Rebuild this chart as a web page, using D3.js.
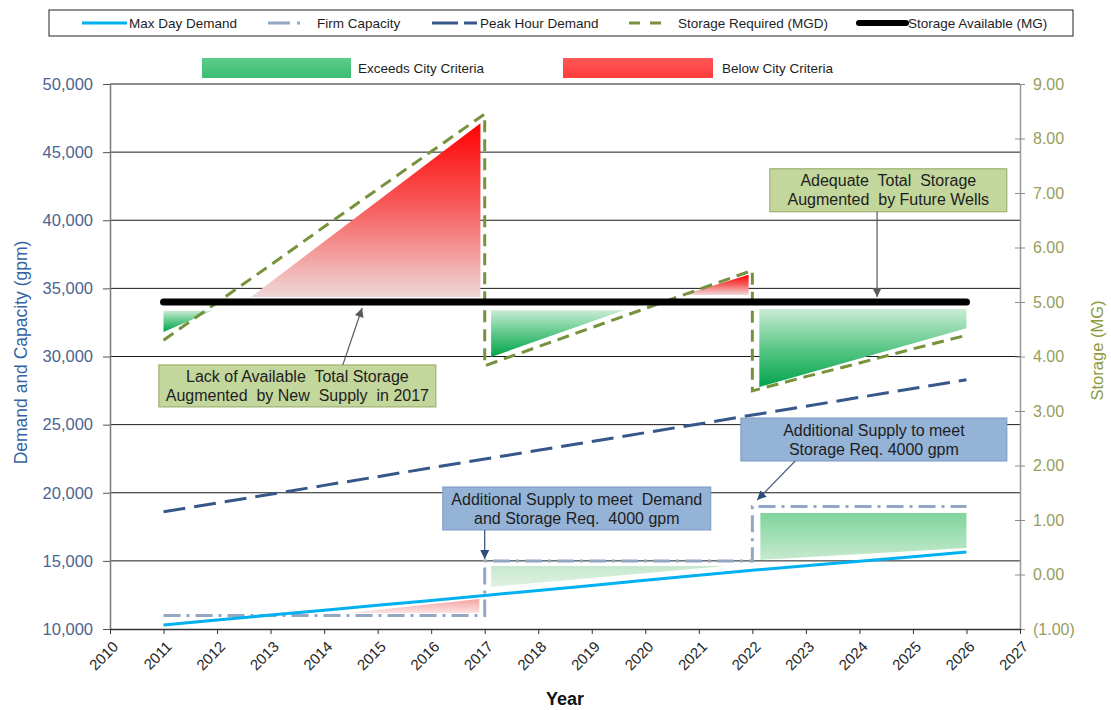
<!DOCTYPE html>
<html>
<head>
<meta charset="utf-8">
<title>Demand, Capacity and Storage</title>
<script src="https://cdn.jsdelivr.net/npm/d3@7/dist/d3.min.js"></script>
<style>
  html, body { margin: 0; padding: 0; background: #fff; }
  text { font-family: "Liberation Sans", Arial, Helvetica, sans-serif; }
</style>
</head>
<body>
<svg id="chart" width="1111" height="710"></svg>
<script>
// ---------------- data ----------------
const years = [2011, 2012, 2013, 2014, 2015, 2016, 2017, 2018, 2019, 2020, 2021, 2022, 2023, 2024, 2025, 2026];
const maxDayDemand   = [10300, 10660, 11020, 11380, 11740, 12100, 12460, 12830, 13200, 13570, 13940, 14310, 14650, 14980, 15310, 15650];
const peakHourDemand = [18600, 19250, 19890, 20540, 21180, 21830, 22470, 23120, 23760, 24410, 25050, 25700, 26350, 27000, 27650, 28300];

const firmCapacityYears = [2011, 2017, 2017, 2022, 2022, 2026];
const firmCapacity      = [11000, 11000, 15000, 15000, 19000, 19000];

const storageRequiredYears = [2011, 2012, 2013, 2014, 2015, 2016, 2017,
                              2017, 2018, 2019, 2020, 2021, 2022,
                              2022, 2023, 2024, 2025, 2026];
const storageRequired = [4.30, 4.99, 5.68, 6.38, 7.07, 7.76, 8.45,
                         3.83, 4.18, 4.53, 4.88, 5.23, 5.58,
                         3.37, 3.63, 3.88, 4.14, 4.39];

const storageAvailableYears = [2011, 2026];
const storageAvailable      = [5.00, 5.00];

// shaded zones, each point is [year, upper, lower]
const storageZones = [
  { kind: "exceeds", pts: [[2011.00, 4.84, 4.45], [2011.91, 4.84, 4.84]] },
  { kind: "below",   pts: [[2012.63, 5.09, 5.09], [2016.92, 8.28, 5.09]] },
  { kind: "exceeds", pts: [[2017.12, 4.85, 3.99], [2019.60, 4.85, 4.85]] },
  { kind: "below",   pts: [[2020.70, 5.13, 5.13], [2021.93, 5.50, 5.13]] },
  { kind: "exceeds", pts: [[2022.13, 4.87, 3.44], [2026.00, 4.87, 4.52]] }
];
const supplyZones = [
  { kind: "below",   pts: [[2014.45, 11180, 11180], [2016.90, 12200, 11180]] },
  { kind: "exceeds", pts: [[2017.12, 14630, 13080], [2021.50, 14630, 14630]] },
  { kind: "exceeds", pts: [[2022.15, 18520, 15070], [2026.00, 18520, 15950]] }
];

const gpmTicks     = [10000, 15000, 20000, 25000, 30000, 35000, 40000, 45000, 50000];
const storageTicks = [-1, 0, 1, 2, 3, 4, 5, 6, 7, 8, 9];
const yearTicks    = [2010, 2011, 2012, 2013, 2014, 2015, 2016, 2017, 2018, 2019, 2020, 2021, 2022, 2023, 2024, 2025, 2026, 2027];

const legendLabels   = ["Max Day Demand", "Firm Capacity", "Peak Hour Demand", "Storage Required (MGD)", "Storage Available (MG)"];
const criteriaLabels = ["Exceeds City Criteria", "Below City Criteria"];

const noteStorageLack = ["Lack of Available  Total Storage", "Augmented  by New  Supply  in 2017"];
const noteStorageOk   = ["Adequate  Total  Storage", "Augmented  by Future Wells"];
const noteSupply2017  = ["Additional Supply to meet  Demand", "and Storage Req.  4000 gpm"];
const noteSupply2022  = ["Additional Supply to meet", "Storage Req. 4000 gpm"];

// ---------------- layout ----------------
const plot = { left: 110, right: 1020, top: 84, bottom: 629 };
const svg = d3.select("#chart");

const x  = d3.scaleLinear().domain([2010, 2027]).range([plot.left, plot.right]);
const yL = d3.scaleLinear().domain([10000, 50000]).range([plot.bottom, plot.top]);
const yR = d3.scaleLinear().domain([-1, 9]).range([plot.bottom, plot.top]);

const colors = {
  maxDay: "#00b0f0",
  firm: "#93a6c4",
  peak: "#36578a",
  req: "#76923c",
  avail: "#000000",
  leftText: "#4a6590",
  leftTitle: "#3563a6",
  rightText: "#979d5c",
  rightTitle: "#8e9a3e"
};

// ---------------- defs ----------------
const defs = svg.append("defs");
function vGrad(id, stops) {
  const g = defs.append("linearGradient").attr("id", id)
    .attr("x1", 0).attr("y1", 0).attr("x2", 0).attr("y2", 1);
  stops.forEach(([o, c]) => g.append("stop").attr("offset", o).attr("stop-color", c));
}
vGrad("storeGreen", [[0, "#c9ecd4"], [0.5, "#5cc787"], [1, "#00a34c"]]);
vGrad("storeRed",   [[0, "#ff0000"], [0.5, "#f76060"], [1, "#efd8d8"]]);
vGrad("supRed",     [[0, "#f6a2a2"], [1, "#fbe2e2"]]);
vGrad("supGreenPale", [[0, "#c6e8cd"], [1, "#e0f2e3"]]);
vGrad("supGreen",   [[0, "#7fd49b"], [1, "#c6eacf"]]);
vGrad("legGreen",   [[0, "#5ccb8a"], [1, "#3dbd72"]]);
vGrad("legRed",     [[0, "#ff5656"], [1, "#ff3c3c"]]);

function arrowMarker(id, color) {
  defs.append("marker").attr("id", id)
    .attr("viewBox", "0 0 10 10").attr("refX", 10).attr("refY", 5)
    .attr("markerWidth", 10).attr("markerHeight", 9)
    .attr("markerUnits", "userSpaceOnUse").attr("orient", "auto")
    .append("path").attr("d", "M0,0L10,5L0,10z").attr("fill", color);
}
arrowMarker("arrGray", "#5a5a5a");
arrowMarker("arrBlue", "#2f4b7c");

// ---------------- gridlines ----------------
svg.append("g").selectAll("line").data(gpmTicks.slice(1)).join("line")
  .attr("x1", plot.left).attr("x2", plot.right)
  .attr("y1", d => yL(d)).attr("y2", d => yL(d))
  .attr("stroke", "#1a1a1a").attr("stroke-width", 1);

// ---------------- shaded zones ----------------
const areaR = d3.area().x(d => x(d[0])).y1(d => yR(d[1])).y0(d => yR(d[2]));
const areaL = d3.area().x(d => x(d[0])).y1(d => yL(d[1])).y0(d => yL(d[2]));

svg.append("g").selectAll("path").data(storageZones).join("path")
  .attr("d", d => areaR(d.pts))
  .attr("fill", d => d.kind === "exceeds" ? "url(#storeGreen)" : "url(#storeRed)");

const supplyFills = ["url(#supRed)", "url(#supGreenPale)", "url(#supGreen)"];
svg.append("g").selectAll("path").data(supplyZones).join("path")
  .attr("d", d => areaL(d.pts))
  .attr("fill", (d, i) => supplyFills[i]);

// ---------------- axes ----------------
const fmtStorage = v => v < 0 ? "(" + d3.format(".2f")(-v) + ")" : d3.format(".2f")(v);

const gLeft = svg.append("g").attr("transform", `translate(${plot.left},0)`)
  .call(d3.axisLeft(yL).tickValues(gpmTicks).tickFormat(d3.format(",")).tickSize(7).tickSizeOuter(0).tickPadding(10));
gLeft.select(".domain").attr("stroke", "#7a7a7a").attr("stroke-width", 1.5);
gLeft.selectAll(".tick line").attr("stroke", "#555");
gLeft.selectAll(".tick text").attr("fill", colors.leftText).attr("font-size", 16.5)
  .attr("font-family", "'Liberation Sans', Arial, sans-serif");

const gRight = svg.append("g").attr("transform", `translate(${plot.right},0)`)
  .call(d3.axisRight(yR).tickValues(storageTicks).tickFormat(fmtStorage).tickSize(5).tickSizeOuter(0).tickPadding(8));
gRight.select(".domain").attr("stroke", "#9a9a9a").attr("stroke-width", 1.5);
gRight.selectAll(".tick line").attr("x1", -5).attr("x2", 5).attr("stroke", "#8a8a8a");
gRight.selectAll(".tick text").attr("fill", colors.rightText).attr("font-size", 16)
  .attr("font-family", "'Liberation Sans', Arial, sans-serif");

const gBottom = svg.append("g").attr("transform", `translate(0,${plot.bottom})`)
  .call(d3.axisBottom(x).tickValues(yearTicks).tickFormat(d3.format("d")).tickSize(5).tickSizeOuter(0));
gBottom.select(".domain").attr("stroke", "#333").attr("stroke-width", 1.5);
gBottom.selectAll(".tick line").attr("stroke", "#333");
gBottom.selectAll(".tick text")
  .attr("font-size", 15).attr("fill", "#262626")
  .attr("font-family", "'Liberation Sans', Arial, sans-serif")
  .attr("text-anchor", "end").attr("x", 0).attr("y", 0).attr("dy", "0.35em")
  .attr("transform", "translate(5,15) rotate(-45)");

// axis titles
svg.append("text").attr("transform", `translate(21,${(plot.top + plot.bottom) / 2 - 4}) rotate(-90)`)
  .attr("text-anchor", "middle").attr("dy", "0.35em")
  .attr("font-size", 17.5).attr("fill", colors.leftTitle).text("Demand and Capacity (gpm)");
svg.append("text").attr("transform", `translate(1097,${(plot.top + plot.bottom) / 2 - 6}) rotate(-90)`)
  .attr("text-anchor", "middle").attr("dy", "0.35em")
  .attr("font-size", 16.5).attr("fill", colors.rightTitle).text("Storage (MG)");
svg.append("text").attr("x", 565).attr("y", 705).attr("text-anchor", "middle")
  .attr("font-size", 18).attr("font-weight", "bold").attr("fill", "#111").text("Year");

// ---------------- series lines ----------------
const lineL = d3.line().x(d => x(d[0])).y(d => yL(d[1]));
const lineR = d3.line().x(d => x(d[0])).y(d => yR(d[1]));

svg.append("path")
  .attr("d", lineL(firmCapacityYears.map((yr, i) => [yr, firmCapacity[i]])))
  .attr("fill", "none").attr("stroke", colors.firm).attr("stroke-width", 3)
  .attr("stroke-dasharray", "17,6,3,6");

svg.append("path")
  .attr("d", lineL(years.map((yr, i) => [yr, maxDayDemand[i]])))
  .attr("fill", "none").attr("stroke", colors.maxDay).attr("stroke-width", 3);

svg.append("path")
  .attr("d", lineL(years.map((yr, i) => [yr, peakHourDemand[i]])))
  .attr("fill", "none").attr("stroke", colors.peak).attr("stroke-width", 3)
  .attr("stroke-dasharray", "22,9");

svg.append("path")
  .attr("d", lineR(storageRequiredYears.map((yr, i) => [yr, storageRequired[i]])))
  .attr("fill", "none").attr("stroke", colors.req).attr("stroke-width", 3)
  .attr("stroke-dasharray", "12,7");

svg.append("path")
  .attr("d", lineR(storageAvailableYears.map((yr, i) => [yr, storageAvailable[i]])))
  .attr("fill", "none").attr("stroke", colors.avail).attr("stroke-width", 7)
  .attr("stroke-linecap", "round");

// ---------------- callouts ----------------
function callout(lines, cx, cy, w, h, fill, stroke) {
  const g = svg.append("g");
  g.append("rect").attr("x", cx - w / 2).attr("y", cy - h / 2).attr("width", w).attr("height", h)
    .attr("fill", fill).attr("stroke", stroke).attr("stroke-width", 1);
  g.selectAll("text").data(lines).join("text")
    .attr("x", cx).attr("y", (d, i) => cy + (i - 0.5) * 19).attr("dy", "0.35em")
    .attr("text-anchor", "middle").attr("font-size", 16).attr("fill", "#1e1e1e")
    .style("white-space", "pre").text(d => d);
}
function arrow(x1, y1, x2, y2, color, marker) {
  svg.append("line").attr("x1", x1).attr("y1", y1).attr("x2", x2).attr("y2", y2)
    .attr("stroke", color).attr("stroke-width", 1.2).attr("marker-end", `url(#${marker})`);
}

// storage callouts (anchored on the storage axis)
callout(noteStorageLack, x(2013.50), yR(3.46), 277, 42, "#c3d69b", "#93a865");
arrow(x(2014.35), yR(3.46) - 21, x(2014.71), yR(4.89), "#5a5a5a", "arrGray");

callout(noteStorageOk, x(2024.54), yR(7.05), 237, 43, "#c3d69b", "#93a865");
arrow(x(2024.33), yR(7.05) + 21.5, x(2024.33), yR(5.09), "#5a5a5a", "arrGray");

// supply callouts (anchored on the demand axis)
callout(noteSupply2017, x(2018.72), yL(18844), 268, 43, "#95b3d7", "#7c98c6");
arrow(x(2017), yL(18844) + 21.5, x(2017), yL(15140), "#2f4b7c", "arrBlue");

callout(noteSupply2022, x(2024.27), yL(23908), 266, 43, "#95b3d7", "#7c98c6");
arrow(x(2022.80), yL(23908) + 21.5, x(2022.09), yL(19470), "#4a5f86", "arrBlue");

// ---------------- legends ----------------
const leg = svg.append("g");
leg.append("rect").attr("x", 49).attr("y", 10).attr("width", 1024).attr("height", 26)
  .attr("fill", "#fff").attr("stroke", "#222").attr("stroke-width", 1);

const legendSamples = [
  { x1: 82,  x2: 127, tx: 129, stroke: colors.maxDay, w: 3, dash: null, cap: "butt" },
  { x1: 268, x2: 305, tx: 317, stroke: colors.firm,   w: 3, dash: "22,7,3,100", cap: "butt" },
  { x1: 432, x2: 477, tx: 480, stroke: colors.peak,   w: 3, dash: "26,6,13,100", cap: "butt" },
  { x1: 629, x2: 662, tx: 678, stroke: colors.req,    w: 3, dash: "11,10,11,100", cap: "butt" },
  { x1: 859, x2: 906, tx: 908, stroke: colors.avail,  w: 6, dash: null, cap: "round" }
];
legendSamples.forEach((s, i) => {
  leg.append("line").attr("x1", s.x1).attr("x2", s.x2).attr("y1", 23).attr("y2", 23)
    .attr("stroke", s.stroke).attr("stroke-width", s.w).attr("stroke-linecap", s.cap)
    .attr("stroke-dasharray", s.dash);
  leg.append("text").attr("x", s.tx).attr("y", 23).attr("dy", "0.35em")
    .attr("font-size", 13.5).attr("fill", "#1e1e1e").text(legendLabels[i]);
});

const criteriaSwatches = [
  { x: 202, w: 149, tx: 358, fill: "url(#legGreen)" },
  { x: 563, w: 150, tx: 722, fill: "url(#legRed)" }
];
criteriaSwatches.forEach((s, i) => {
  leg.append("rect").attr("x", s.x).attr("y", 58).attr("width", s.w).attr("height", 20).attr("fill", s.fill);
  leg.append("text").attr("x", s.tx).attr("y", 68).attr("dy", "0.35em")
    .attr("font-size", 13.5).attr("fill", "#1e1e1e").text(criteriaLabels[i]);
});
</script>
</body>
</html>
